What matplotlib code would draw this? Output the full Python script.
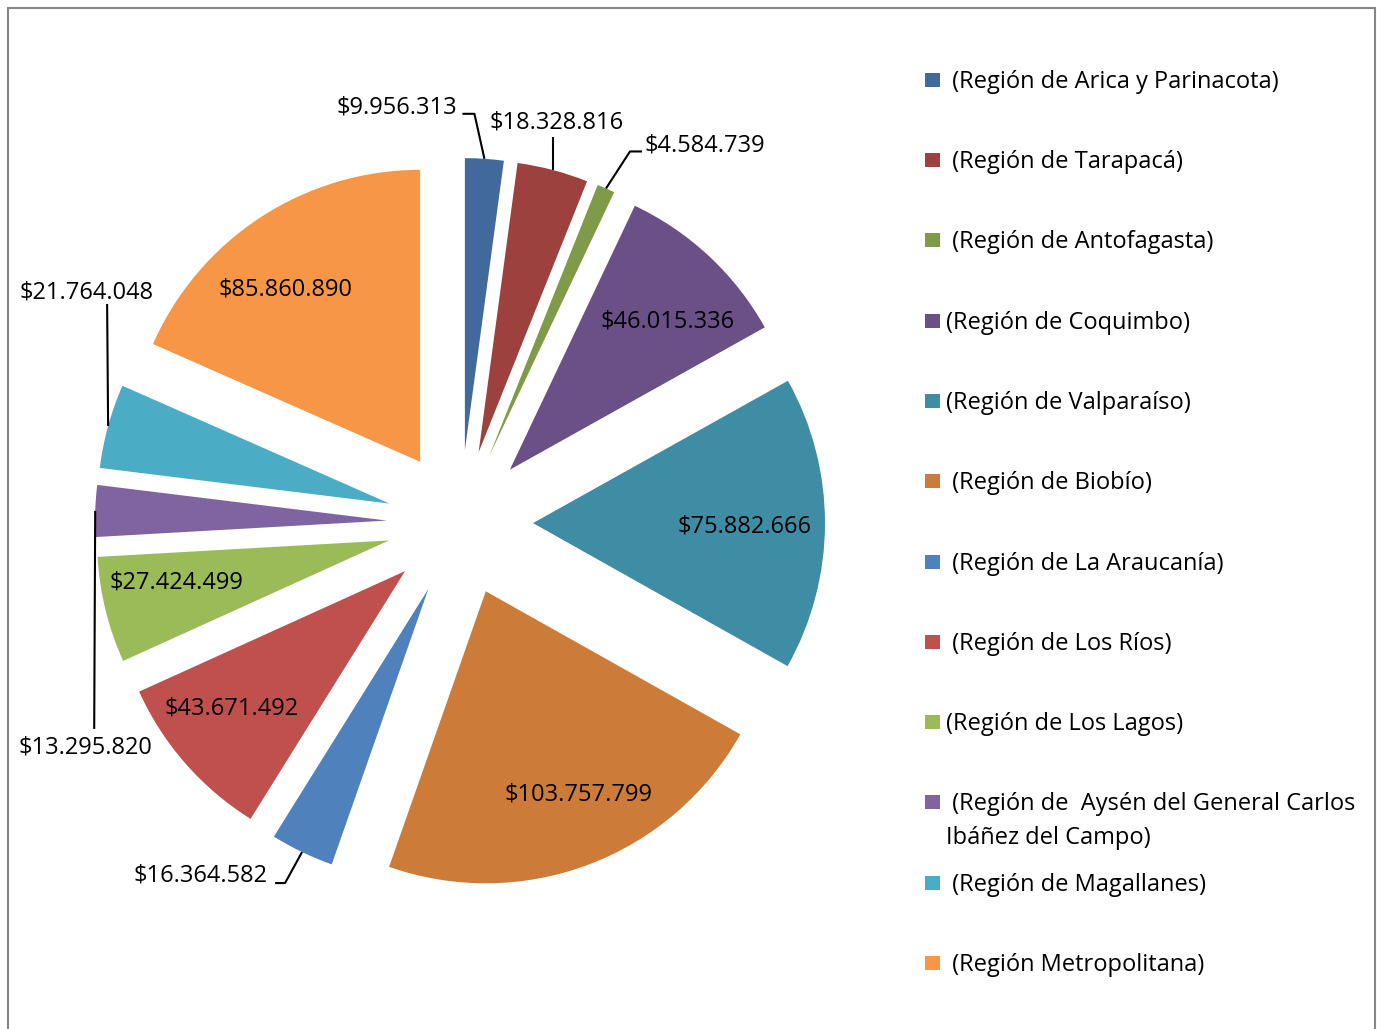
import numpy as np
import matplotlib
matplotlib.use("Agg")
import matplotlib.pyplot as plt
from matplotlib.patches import Rectangle

# ---------------- data ----------------
regions = [
    " (Región de Arica y Parinacota)",
    " (Región de Tarapacá)",
    " (Región de Antofagasta)",
    "(Región de Coquimbo)",
    "(Región de Valparaíso)",
    " (Región de Biobío)",
    " (Región de La Araucanía)",
    " (Región de Los Ríos)",
    "(Región de Los Lagos)",
    " (Región de  Aysén del General Carlos\nIbáñez del Campo)",
    " (Región de Magallanes)",
    " (Región Metropolitana)",
]
amounts = [9956313, 18328816, 4584739, 46015336, 75882666, 103757799,
           16364582, 43671492, 27424499, 13295820, 21764048, 85860890]

colors = ["#41699B", "#9D413E", "#7F9A48", "#6A5087", "#3E8DA5", "#CD7B39",
          "#4F81BD", "#C0504D", "#9BBB59", "#8064A2", "#4BACC6", "#F79646"]

# ---------------- layout ----------------
W, H = 1384, 1029
CX, CY = 460, 523          # pie centre in pixels (from top-left)
R_PX = 292                 # pie radius in pixels
FONT = "Open Sans"
FS = 17

fig = plt.figure(figsize=(W / 100, H / 100), dpi=100)
fig.patch.set_facecolor("white")

ax = fig.add_axes([0, 0, 1, 1])
ax.axis("off")

wedges, _ = ax.pie(amounts, colors=colors, startangle=90, counterclock=False,
                   explode=[0.25] * len(amounts), radius=1.0,
                   wedgeprops=dict(linewidth=0))
ax.set_xlim(-CX / R_PX, (W - CX) / R_PX)
ax.set_ylim(-(H - CY) / R_PX, CY / R_PX)


def fmt(v):
    return "$" + f"{v:,}".replace(",", ".")


# inside label nudges (px, y down)
inside = {3: (8, 12), 4: (-7, 3), 5: (15, -2), 7: (-9, -7), 8: (0, -10), 11: (-15, 11)}
# outside label layout: text offset (px, y down), ha, leader path points (px offsets)
outside = {
    0: ((-27, -51), "right", [(0, 0), (-10, -45), (-22, -45)]),
    1: ((4, -48), "center", [(0, 0), (0, -33)]),
    2: ((39, -43), "left", [(0, 0), (24, -37), (36, -37)]),
    6: ((-35, 23), "right", [(0, 0), (-17, 31), (-27, 31)]),
    9: ((-10, 237), "center", [(0, 0), (-1, 218)]),
    10: ((-22, -134), "center", [(0, 0), (-1, -122)]),
}

for i, w in enumerate(wedges):
    th = np.deg2rad((w.theta1 + w.theta2) / 2)
    cx, cy = w.center
    d = np.array([np.cos(th), np.sin(th)])
    if i in inside:
        nx, ny = inside[i]
        p = np.array([cx, cy]) + 0.75 * w.r * d
        ax.text(p[0] + nx / R_PX, p[1] - ny / R_PX, fmt(amounts[i]),
                ha="center", va="center",
                fontsize=FS, family=FONT, color="black", parse_math=False)
    else:
        anchor = np.array([cx, cy]) + w.r * d
        (tx, ty), ha, path = outside[i]
        xs = [anchor[0] + px / R_PX for px, py in path]
        ys = [anchor[1] - py / R_PX for px, py in path]
        ax.plot(xs, ys, color="black", lw=1.5, solid_capstyle="butt")
        ax.text(anchor[0] + tx / R_PX, anchor[1] - ty / R_PX, fmt(amounts[i]),
                ha=ha, va="center", fontsize=FS, family=FONT, color="black",
                parse_math=False)

# ---------------- legend (manual) ----------------
LEG_Y0, LEG_DY = 79.7, 80.3
for i, (lab, col) in enumerate(zip(regions, colors)):
    yc = LEG_Y0 + i * LEG_DY
    fig.add_artist(Rectangle(((925) / W, 1 - (yc + 7) / H), 15 / W, 14 / H,
                             transform=fig.transFigure, facecolor=col,
                             edgecolor="none"))
    fig.text(946 / W, 1 - (yc - 10) / H, lab, ha="left", va="top",
             fontsize=FS, family=FONT, color="black", linespacing=1.55)

# ---------------- border ----------------
fig.add_artist(Rectangle((8 / W, -0.05), (1375 - 8) / W, 1.05 - 8 / H,
                         transform=fig.transFigure, facecolor="none",
                         edgecolor="#868686", linewidth=1.5))

fig.savefig("out.png", dpi=100, facecolor="white")
